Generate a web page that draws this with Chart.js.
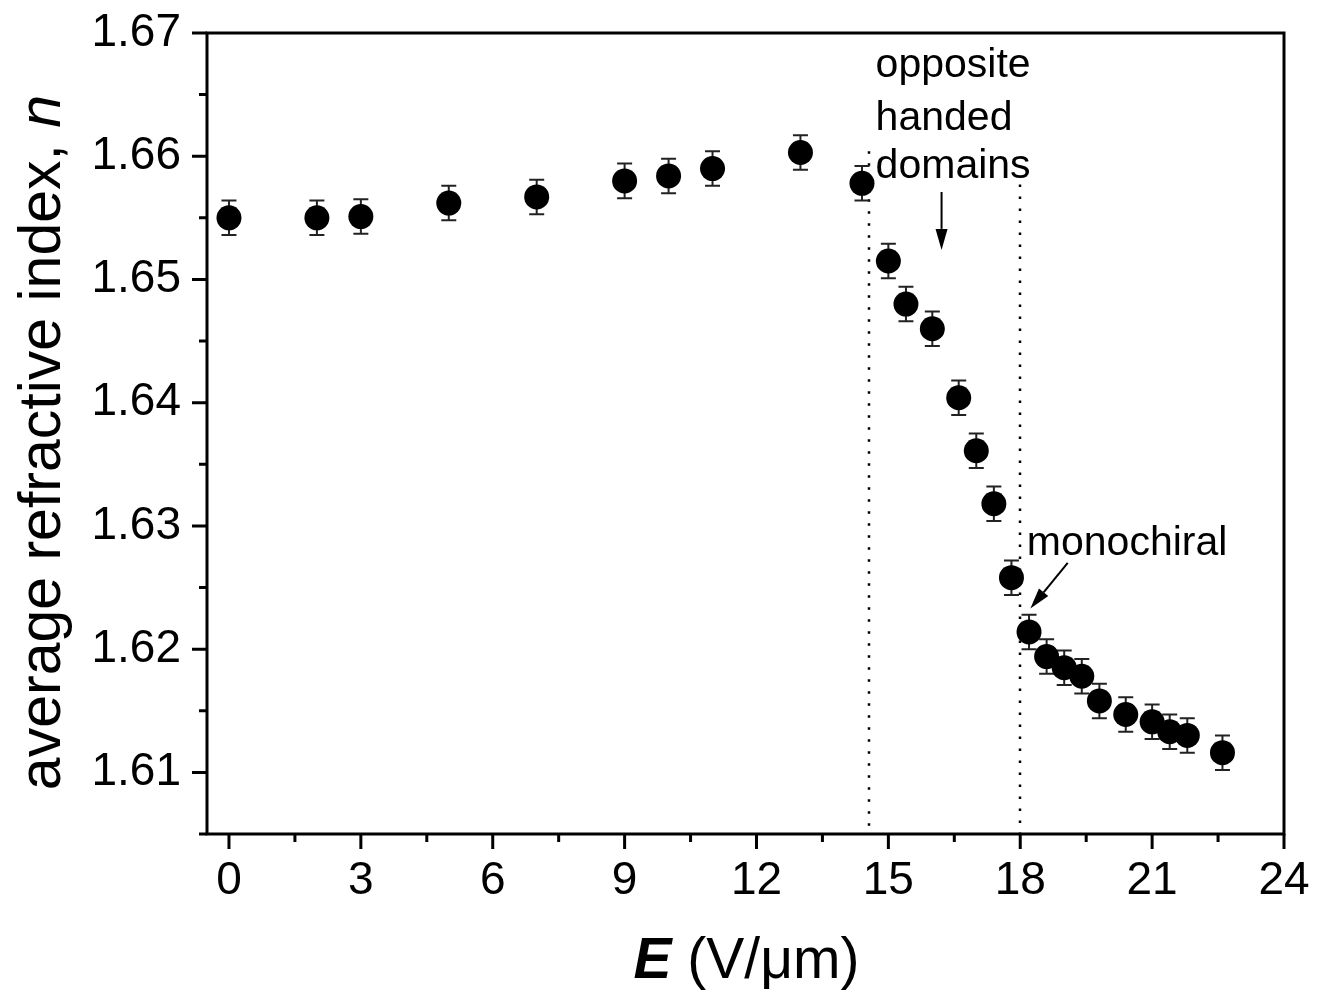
<!DOCTYPE html>
<html><head><meta charset="utf-8">
<script src="https://cdn.jsdelivr.net/npm/chart.js@4.4.1/dist/chart.umd.min.js"></script>
<style>html,body{margin:0;padding:0;background:#fff}#wrap{width:1317px;height:994px;position:relative}</style>
</head><body><div id="wrap"><canvas id="c" width="1317" height="994"></canvas></div>
<script>
// ---- data ----
const fieldE   = [0, 2, 3, 5, 7, 9, 10, 11, 13, 14.4, 15.0, 15.4, 16.0, 16.6, 17.0, 17.4, 17.8, 18.2, 18.6, 19.0, 19.4, 19.8, 20.4, 21.0, 21.4, 21.8, 22.6];
const indexN   = [1.6550, 1.6550, 1.6551, 1.6562, 1.6567, 1.6580, 1.6584, 1.6590, 1.6603, 1.6578, 1.6515, 1.6480, 1.6460, 1.6404, 1.6361, 1.6318, 1.6258, 1.6214, 1.6194, 1.6185, 1.6178, 1.6158, 1.6147, 1.6141, 1.6133, 1.6130, 1.6116];
const indexErr = [0.0014, 0.0014, 0.0014, 0.0014, 0.0014, 0.0014, 0.0014, 0.0014, 0.0014, 0.0014, 0.0014, 0.0014, 0.0014, 0.0014, 0.0014, 0.0014, 0.0014, 0.0014, 0.0014, 0.0014, 0.0014, 0.0014, 0.0014, 0.0014, 0.0014, 0.0014, 0.0014];
const xMajorTicks = [0, 3, 6, 9, 12, 15, 18, 21, 24];
const xMinorTicks = [1.5, 4.5, 7.5, 10.5, 13.5, 16.5, 19.5, 22.5];
const yMajorTicks = [1.61, 1.62, 1.63, 1.64, 1.65, 1.66, 1.67];
const yMinorTicks = [1.605, 1.615, 1.625, 1.635, 1.645, 1.655, 1.665];
const boundaryE   = [14.55, 18.0];
const boundaryTop = [1.6604, 1.6577];

// ---- annotation config ----
const FONT = '"Liberation Sans", Arial, sans-serif';
const annoTexts = [
  {text: 'opposite',   x: 14.71, y: 1.66643},
  {text: 'handed',     x: 14.71, y: 1.66213},
  {text: 'domains',    x: 14.71, y: 1.65824},
  {text: 'monochiral', x: 18.15, y: 1.62767}
];
const annoArrows = [
  {x1: 16.21, y1: 1.65710, x2: 16.21, y2: 1.65240},
  {x1: 19.08, y1: 1.62701, x2: 18.23, y2: 1.62329}
];

function drawArrow(ctx, x1, y1, x2, y2) {
  const ang = Math.atan2(y2 - y1, x2 - x1);
  const hl = 21, hw = 6;
  const bx = x2 - hl * Math.cos(ang), by = y2 - hl * Math.sin(ang);
  ctx.beginPath(); ctx.moveTo(x1, y1); ctx.lineTo(bx, by); ctx.stroke();
  ctx.beginPath();
  ctx.moveTo(x2, y2);
  ctx.lineTo(bx + hw * Math.sin(ang), by - hw * Math.cos(ang));
  ctx.lineTo(bx - hw * Math.sin(ang), by + hw * Math.cos(ang));
  ctx.closePath(); ctx.fill();
}

const decor = {
  id: 'decor',
  beforeDatasetsDraw(chart) {
    const {ctx, scales: {x, y}} = chart;
    ctx.save();
    ctx.strokeStyle = '#000'; ctx.lineWidth = 2.5; ctx.setLineDash([2.5, 9.5]);
    boundaryE.forEach((e, i) => {
      const px = Math.round(x.getPixelForValue(e));
      ctx.beginPath();
      ctx.moveTo(px, y.getPixelForValue(boundaryTop[i]));
      ctx.lineTo(px, y.getPixelForValue(y.min));
      ctx.stroke();
    });
    ctx.setLineDash([]);
    ctx.strokeStyle = '#222'; ctx.lineWidth = 2;
    fieldE.forEach((e, i) => {
      const px = x.getPixelForValue(e);
      const t = y.getPixelForValue(indexN[i] + indexErr[i]);
      const b = y.getPixelForValue(indexN[i] - indexErr[i]);
      ctx.beginPath();
      ctx.moveTo(px, t); ctx.lineTo(px, b);
      ctx.moveTo(px - 7.5, t); ctx.lineTo(px + 7.5, t);
      ctx.moveTo(px - 7.5, b); ctx.lineTo(px + 7.5, b);
      ctx.stroke();
    });
    ctx.restore();
  },
  afterDatasetsDraw(chart) {
    const {ctx, chartArea: ca, scales: {x, y}} = chart;
    ctx.save();
    ctx.strokeStyle = '#000'; ctx.fillStyle = '#000';
    // frame
    ctx.lineWidth = 3;
    ctx.strokeRect(ca.left, ca.top, ca.right - ca.left, ca.bottom - ca.top);
    // ticks
    ctx.lineWidth = 3;
    ctx.beginPath();
    xMajorTicks.forEach(v => { const p = x.getPixelForValue(v); ctx.moveTo(p, ca.bottom); ctx.lineTo(p, ca.bottom + 15); });
    xMinorTicks.forEach(v => { const p = x.getPixelForValue(v); ctx.moveTo(p, ca.bottom); ctx.lineTo(p, ca.bottom + 8); });
    yMajorTicks.forEach(v => { const p = y.getPixelForValue(v); ctx.moveTo(ca.left, p); ctx.lineTo(ca.left - 15, p); });
    yMinorTicks.forEach(v => { const p = y.getPixelForValue(v); ctx.moveTo(ca.left, p); ctx.lineTo(ca.left - 8, p); });
    ctx.stroke();
    // annotations
    ctx.font = '41px ' + FONT;
    ctx.textAlign = 'left'; ctx.textBaseline = 'alphabetic';
    annoTexts.forEach(a => ctx.fillText(a.text, x.getPixelForValue(a.x), y.getPixelForValue(a.y)));
    ctx.lineWidth = 2;
    annoArrows.forEach(a => drawArrow(ctx, x.getPixelForValue(a.x1), y.getPixelForValue(a.y1), x.getPixelForValue(a.x2), y.getPixelForValue(a.y2)));
    // x title
    const f1 = 'italic bold 57px ' + FONT, f2 = '57px ' + FONT;
    const s1 = 'E', s2 = ' (V/\u03bcm)';
    ctx.font = f1; const w1 = ctx.measureText(s1).width;
    ctx.font = f2; const w2 = ctx.measureText(s2).width;
    const sx = (ca.left + ca.right) / 2 + 1 - (w1 + w2) / 2;
    ctx.font = f1; ctx.fillText(s1, sx, 978);
    ctx.font = f2; ctx.fillText(s2, sx + w1, 978);
    // y title
    ctx.save();
    ctx.translate(60, (ca.top + ca.bottom) / 2 + 9);
    ctx.rotate(-Math.PI / 2);
    const t1 = 'average refractive index, ', t2 = 'n';
    const g1 = '59px ' + FONT, g2 = 'italic 59px ' + FONT;
    ctx.font = g1; const v1 = ctx.measureText(t1).width;
    ctx.font = g2; const v2 = ctx.measureText(t2).width;
    const sy = -(v1 + v2) / 2;
    ctx.font = g1; ctx.fillText(t1, sy, 0);
    ctx.font = g2; ctx.fillText(t2, sy + v1, 0);
    ctx.restore();
    ctx.restore();
  }
};

function zeroPad(s) { s.paddingLeft = 0; s.paddingRight = 0; s.paddingTop = 0; s.paddingBottom = 0; }

new Chart(document.getElementById('c'), {
  type: 'scatter',
  data: {
    datasets: [{
      data: fieldE.map((e, i) => ({x: e, y: indexN[i]})),
      pointRadius: 12.5,
      pointHoverRadius: 12.5,
      backgroundColor: '#000',
      borderColor: '#000',
      borderWidth: 0
    }]
  },
  options: {
    responsive: false,
    animation: false,
    devicePixelRatio: 1,
    events: [],
    layout: {padding: {top: 33, right: 33, left: 0, bottom: 0}},
    plugins: {legend: {display: false}, tooltip: {enabled: false}},
    scales: {
      x: {
        type: 'linear', min: -0.5, max: 24,
        afterBuildTicks: s => { s.ticks = xMajorTicks.map(v => ({value: v})); },
        afterFit: s => { s.height = 160; zeroPad(s); },
        grid: {display: false, drawTicks: false},
        border: {display: false},
        ticks: {autoSkip: false, maxRotation: 0, padding: 20, color: '#000',
                font: {size: 46, family: FONT}, callback: v => String(v)}
      },
      y: {
        type: 'linear', min: 1.605, max: 1.67,
        afterBuildTicks: s => { s.ticks = yMajorTicks.map(v => ({value: v})); },
        afterFit: s => { s.width = 207; zeroPad(s); },
        grid: {display: false, drawTicks: false},
        border: {display: false},
        ticks: {autoSkip: false, padding: 26, color: '#000',
                font: {size: 46, family: FONT}, callback: v => v.toFixed(2)}
      }
    }
  },
  plugins: [decor]
});
</script>
</body></html>
